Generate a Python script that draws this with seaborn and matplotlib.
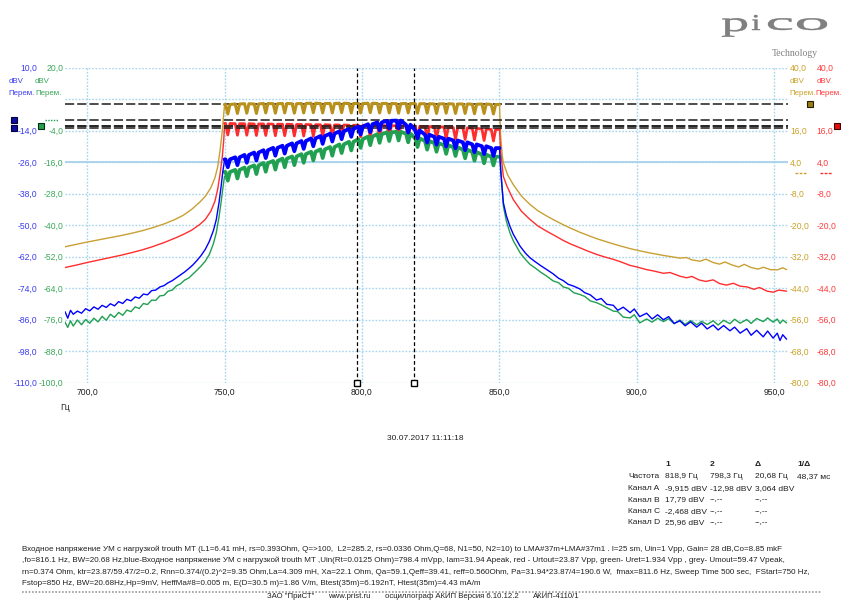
import numpy as np
import pandas as pd
import matplotlib
matplotlib.use("Agg")
import matplotlib.pyplot as plt
import matplotlib.transforms as mtransforms
from matplotlib.ticker import FixedLocator, FuncFormatter
from matplotlib.textpath import TextPath
from matplotlib.patches import PathPatch
from matplotlib.font_manager import FontProperties
import seaborn as sns

sns.set_style("white")
plt.rcParams["font.family"] = ["Liberation Sans", "DejaVu Sans"]
plt.rcParams["axes.unicode_minus"] = False

# ------------------------------------------------------------------ data
X_TICKS = [700, 750, 800, 850, 900, 950]
A_TICKS = [-110, -98, -86, -74, -62, -50, -38, -26, -14, -2, 10]      # blue, dBV
C_TICKS = [-100, -88, -76, -64, -52, -40, -28, -16, -4, 8, 20]        # green, dBV
BD_TICKS = [-80, -68, -56, -44, -32, -20, -8, 4, 16, 28, 40]          # yellow / red, dBV
A_HIDDEN, C_HIDDEN, BD_HIDDEN = -2, 8, 28

CURSOR_FREQ = [818.9, 798.3]
CURSOR_A = [-9.915, -12.98]
CURSOR_B = 17.79
CURSOR_C = -2.468
CURSOR_D = 25.96

# low-frequency skirt (Hz)
SMOOTH_LEFT_F = [692, 696, 700, 704, 708, 712, 716, 720, 724, 728, 732, 735, 738, 741,
                 743, 745, 746.5, 747.5, 748.4, 749.2, 749.7, 750]
YELLOW_LEFT = [-28.3, -27.4, -26.5, -25.7, -24.9, -24.1, -23.2, -22.2, -21.0, -19.6, -17.9,
               -16.3, -14.1, -11.3, -9.1, -5.9, -2.1, 2.0, 8.5, 16.0, 22.0, 25.5]
RED_LEFT = [-36.2, -35.3, -34.3, -33.4, -32.5, -31.6, -30.6, -29.5, -28.2, -26.7, -25.0,
            -23.6, -22.0, -19.8, -17.9, -14.8, -11.0, -6.5, -0.5, 6.0, 12.0, 17.5]

NOISY_LEFT_F = [692.0, 693.0, 694.0, 695.0, 696.5, 698.0, 699.5, 701.0, 702.5, 704.0, 705.5,
                707.0, 708.5, 710.0, 711.5, 713.0, 714.5, 716.0, 717.5, 719.0, 720.5, 722.0,
                723.5, 725.0, 726.5, 728.0, 729.5, 731.0, 732.5, 734.0, 735.5, 737.0, 738.5,
                740.0, 741.5, 743.0, 744.5, 746.0, 747.0, 748.0, 748.8, 749.4, 750.0]
BLUE_LEFT = [-83.0, -85.5, -82.5, -84.0, -82.8, -83.6, -81.9, -82.7, -81.2, -82.1, -80.6,
             -81.4, -80.0, -80.8, -79.2, -79.9, -78.3, -78.9, -77.4, -77.9, -76.3, -76.6,
             -75.0, -74.8, -73.6, -73.1, -72.0, -71.2, -70.1, -69.0, -67.9, -66.6, -65.2,
             -63.5, -61.6, -59.3, -56.2, -52.0, -48.0, -41.5, -35.0, -29.5, -25.5]
GREEN_LEFT = [-77.0, -79.0, -76.5, -78.5, -76.2, -78.0, -76.0, -77.4, -75.5, -76.9, -74.8,
              -76.3, -74.0, -75.2, -73.3, -74.4, -72.4, -73.0, -71.2, -71.8, -69.9, -70.3,
              -68.6, -68.7, -67.0, -66.8, -65.2, -64.8, -63.2, -62.4, -61.0, -60.2, -58.7,
              -57.2, -55.6, -53.8, -51.2, -47.0, -43.0, -37.0, -31.0, -26.0, -21.5]

# pass band 750..850 Hz: ripple notch positions and top level of each trace
RIPPLE_FREQ = [751.2, 754.7, 758.1, 761.6, 765.0, 768.5, 771.9, 775.4, 778.8, 782.3, 785.7,
               789.2, 792.6, 796.1, 799.5, 803.0, 806.4, 809.9, 813.3, 816.8, 820.2, 823.7,
               827.1, 830.6, 834.0, 837.5, 840.9, 844.4, 847.8]
YELLOW_TOP = [25.9, 26.1, 26.2, 26.1, 26.3, 26.2, 26.3, 26.2, 26.3, 26.4, 26.3, 26.3, 26.4,
              26.3, 26.3, 26.4, 26.3, 26.3, 26.2, 26.3, 26.2, 26.2, 26.1, 26.2, 26.1, 26.1,
              26.0, 26.1, 25.9]
RED_TOP = [18.7, 18.6, 18.6, 18.5, 18.5, 18.4, 18.4, 18.3, 18.3, 18.2, 18.2, 18.1, 18.1, 18.0,
           18.0, 17.9, 17.9, 17.8, 17.8, 17.7, 17.6, 17.5, 17.4, 17.3, 17.1, 17.0, 16.8, 16.6,
           16.4]
BLUE_TOP = [-25.0, -24.2, -23.3, -22.4, -21.5, -20.6, -19.8, -18.9, -18.0, -17.0, -16.1,
            -15.2, -14.3, -13.4, -12.5, -11.6, -10.9, -10.3, -10.2, -11.8, -14.0, -15.6,
            -16.4, -17.1, -17.8, -18.5, -19.3, -20.0, -20.7]
GREEN_TOP = [-19.8, -19.0, -18.1, -17.3, -16.4, -15.6, -14.7, -13.9, -13.0, -12.1, -11.2,
             -10.3, -9.3, -8.3, -7.3, -6.3, -5.4, -4.7, -4.5, -5.2, -7.0, -8.0, -8.8, -9.6,
             -10.4, -11.3, -12.2, -13.2, -14.0]
RIPPLE_DEPTH = {"yellow": 3.6, "red": 4.4, "blue": 3.0, "green": 3.3}

# high-frequency skirt
YELLOW_RIGHT_F = [850.4, 851.0, 851.4, 853.0, 855.0, 858.0, 861.1, 864.0, 867.2, 870.0, 873.2,
                  876.0, 879.3, 882.0, 885.3, 888.0, 891.4, 894.0, 897.5, 900.0, 903.5, 906.0,
                  909.6, 912.0, 915.6, 918.0, 920.0, 923.0, 925.0, 927.7, 930.0, 932.0, 934.5,
                  937.0, 939.0, 941.5, 944.0, 946.0, 948.5, 951.0, 953.0, 954.4]
YELLOW_RIGHT = [14.0, 6.5, 3.7, -1.0, -4.6, -9.0, -12.2, -14.6, -16.6, -18.2, -19.9, -21.3,
                -22.8, -23.9, -25.2, -26.1, -27.2, -28.0, -29.0, -29.6, -30.4, -30.9, -31.6,
                -32.0, -32.6, -32.4, -33.3, -33.8, -33.0, -34.3, -34.9, -34.1, -35.2, -36.0,
                -35.0, -36.2, -36.8, -36.1, -37.0, -37.1, -36.3, -37.0]
RED_RIGHT_F = [850.4, 851.4, 852.7, 855.0, 858.0, 861.1, 864.0, 867.2, 870.0, 873.2, 876.0,
               879.3, 882.0, 885.3, 888.0, 891.4, 894.0, 897.5, 900.0, 903.5, 906.0, 909.6,
               912.0, 915.6, 918.0, 920.0, 922.5, 925.0, 927.7, 930.0, 932.5, 935.0, 937.5,
               940.1, 942.5, 944.5, 947.3, 949.5, 951.5, 954.4]
RED_RIGHT = [8.0, -1.5, -5.2, -10.3, -14.8, -17.9, -20.4, -22.4, -24.0, -25.9, -27.3, -28.7,
             -29.9, -31.2, -32.1, -33.1, -34.0, -35.4, -36.0, -37.0, -37.5, -38.4, -38.1,
             -39.5, -40.1, -39.6, -40.9, -41.5, -40.9, -42.3, -42.9, -42.2, -43.3, -43.6,
             -44.5, -43.8, -45.2, -45.6, -44.8, -45.2]
NOISY_RIGHT_F = [850.4, 851.4, 852.5, 853.8, 855.0, 857.5, 859.5, 861.1, 863.0, 865.0, 867.2,
                 869.5, 871.5, 873.2, 875.0, 877.0, 879.3, 881.0, 883.0, 885.3, 887.0, 889.0,
                 891.4, 893.0, 895.0, 897.5, 899.0, 901.0, 903.5, 905.5, 907.5, 909.6, 911.5,
                 913.5, 915.6, 917.5, 919.5, 921.7, 923.5, 925.5, 927.7, 929.5, 931.5, 933.8,
                 935.5, 937.5, 939.9, 941.5, 943.5, 945.9, 947.5, 949.5, 951.0, 952.0, 953.0,
                 954.4]
BLUE_RIGHT = [-29.0, -41.5, -46.5, -50.5, -53.5, -58.1, -60.8, -62.5, -64.0, -65.5, -67.0,
              -68.6, -70.3, -71.2, -72.6, -73.3, -74.4, -75.8, -76.6, -78.6, -78.0, -80.2,
              -80.6, -82.5, -81.3, -83.4, -82.0, -84.9, -83.6, -85.8, -84.2, -86.1, -84.9,
              -87.5, -86.5, -88.4, -86.9, -88.9, -87.4, -89.6, -88.1, -90.0, -88.3, -90.3,
              -88.9, -91.2, -89.5, -92.0, -90.1, -92.6, -90.4, -93.1, -91.2, -94.0, -91.8,
              -93.5]
GREEN_RIGHT = [-17.6, -32.8, -38.5, -43.0, -46.0, -50.6, -53.2, -55.0, -56.4, -58.0, -59.5,
               -61.3, -62.0, -63.6, -64.1, -65.8, -66.5, -67.2, -68.9, -69.6, -70.4, -71.5,
               -72.8, -73.0, -75.1, -75.4, -74.2, -77.3, -75.8, -77.0, -75.5, -76.8, -75.7,
               -77.6, -76.2, -77.9, -76.4, -78.0, -76.7, -77.9, -76.5, -78.1, -76.3, -77.6,
               -75.9, -77.4, -76.0, -77.5, -75.6, -76.8, -75.4, -77.0, -75.8, -77.5, -76.2,
               -77.3]

TABLE_HEAD = ["1", "2", "Δ", "1/Δ"]
TABLE_ROWS = [
    ["Частота", "818,9 Гц", "798,3 Гц", "20,68 Гц", "48,37 мс"],
    ["Канал A", "-9,915 dBV", "-12,98 dBV", "3,064 dBV", ""],
    ["Канал B", "17,79 dBV", "--,--", "--,--", ""],
    ["Канал C", "-2,468 dBV", "--,--", "--,--", ""],
    ["Канал D", "25,96 dBV", "--,--", "--,--", ""],
]
NOTE_LINES = [
    "Входное напряжение УМ с нагрузкой trouth MT (L1=6.41 mH, rs=0.393Ohm, Q=>100,  L2=285.2, rs=0.0336 Ohm,Q=68, N1=50, N2=10) to LMA#37m+LMA#37m1 . l=25 sm, Uin=1 Vpp, Gain= 28 dB,Co=8.85 mkF",
    ",fo=816.1 Hz, BW=20.68 Hz,blue-Входное напряжение УМ с нагрузкой trouth MT ,Uin(Rt=0.0125 Ohm)=798.4 mVpp, Iam=31.94 Apeak, red - Urtout=23.87 Vpp, green- Uret=1.934 Vpp , grey- Umout=59.47 Vpeak,",
    "rn=0.374 Ohm, ktr=23.87/59.47/2=0.2, Rnn=0.374/(0.2)^2=9.35 Ohm,La=4.309 mH, Xa=22.1 Ohm, Qa=59.1,Qeff=39.41, reff=0.560Ohm, Pa=31.94*23.87/4=190.6 W,  fmax=811.6 Hz, Sweep Time 500 sec,  FStart=750 Hz,",
    "Fstop=850 Hz, BW=20.68Hz,Hp=9mV, HeffMa#8=0.005 m, E(D=30.5 m)=1.86 V/m, Btest(35m)=6.192nT, Htest(35m)=4.43 mA/m",
]
DATE_TEXT = "30.07.2017 11:11:18"
FOOTER = ['ЗАО "ПриСТ"', "www.prist.ru", "осциллограф АКИП Версия 6.10.12.2", "АКИП-4110/1"]

# ------------------------------------------------------------------ style
W, H = 841, 600
PL, PR, PT, PB = 65, 788, 67.5, 382.5
XMIN = 692.0
XMAX = 692.0 + (PR - PL) / 2.75

BLUE, GREEN, RED, GOLD = "#0000ff", "#20a050", "#ff2e2e", "#c9a033"
GOLD_BAND = "#b8901c"
T_BLUE, T_GREEN, T_GOLD, T_RED = "#3c3cf0", "#3aa85a", "#c9a227", "#ff3b3b"
GRID = "#a6d5ec"
TICK_FS = 6.2


def fmt(hidden):
    return FuncFormatter(lambda v, p: "" if abs(v - hidden) < 1e-6 else f"{v:.1f}".replace(".", ","))


def px2frac(px):
    return (px - PL) / (PR - PL)


def passband(tops, depth):
    xs, ys = [750.0], [tops[0]]
    for f, t in zip(RIPPLE_FREQ, tops):
        xs += [f - 0.8, f, f + 0.8]
        ys += [t, t - depth, t]
    xs.append(850.0)
    ys.append(tops[-1])
    return xs, ys


fig = plt.figure(figsize=(W / 100, H / 100), dpi=100)
fig.patch.set_facecolor("white")
rect = [PL / W, 1 - PB / H, (PR - PL) / W, (PB - PT) / H]
ax_D = fig.add_axes(rect)
ax_B = ax_D.twinx()
ax_C = ax_D.twinx()
ax_A = ax_D.twinx()


def line(ax, x, y, color, lw):
    sns.lineplot(x=x, y=y, ax=ax, color=color, linewidth=lw, estimator=None,
                 sort=False, legend=False)


# yellow (D)
line(ax_D, SMOOTH_LEFT_F, YELLOW_LEFT, GOLD, 1.0)
xs, ys = passband(YELLOW_TOP, RIPPLE_DEPTH["yellow"])
line(ax_D, xs, ys, GOLD_BAND, 2.2)
line(ax_D, [850.0] + YELLOW_RIGHT_F, [YELLOW_TOP[-1]] + YELLOW_RIGHT, GOLD, 1.0)
# red (B)
line(ax_B, SMOOTH_LEFT_F, RED_LEFT, RED, 1.0)
xs, ys = passband(RED_TOP, RIPPLE_DEPTH["red"])
line(ax_B, xs, ys, RED, 2.0)
line(ax_B, [850.0] + RED_RIGHT_F, [RED_TOP[-1]] + RED_RIGHT, RED, 1.0)
# green (C)
line(ax_C, NOISY_LEFT_F, GREEN_LEFT, GREEN, 1.0)
xs, ys = passband(GREEN_TOP, RIPPLE_DEPTH["green"])
line(ax_C, xs, ys, GREEN, 2.7)
line(ax_C, [850.0] + NOISY_RIGHT_F, [GREEN_TOP[-1]] + GREEN_RIGHT, GREEN, 1.0)
# blue (A)
line(ax_A, NOISY_LEFT_F, BLUE_LEFT, BLUE, 1.0)
xs, ys = passband(BLUE_TOP, RIPPLE_DEPTH["blue"])
line(ax_A, xs, ys, BLUE, 2.7)
line(ax_A, [850.0] + NOISY_RIGHT_F, [BLUE_TOP[-1]] + BLUE_RIGHT, BLUE, 1.0)

# cursor level lines
dash = dict(color="#1c1c1c", lw=1.1, ls=(0, (6, 2)), zorder=1)
ax_D.axhline(CURSOR_D, **dash)
ax_B.axhline(CURSOR_B, **dash)
ax_C.axhline(CURSOR_C, **dash)
for v in CURSOR_A:
    ax_A.axhline(v, **dash)
# cursor frequency lines
for f in CURSOR_FREQ:
    ax_A.axvline(f, color="black", lw=0.9, ls=(0, (3, 2)), zorder=1)
ax_A.plot(CURSOR_FREQ, [A_TICKS[0]] * 2, ls="none", marker="s", ms=3.8, mfc="white",
          mec="black", mew=1.0, clip_on=False, zorder=5)

# axis limits & ticks
for ax, ticks, lo_hi in [(ax_A, A_TICKS, (-110, 10)), (ax_C, C_TICKS, (-100, 20)),
                         (ax_B, BD_TICKS, (-80, 40)), (ax_D, BD_TICKS, (-80, 40))]:
    ax.set_ylim(*lo_hi)
    ax.yaxis.set_major_locator(FixedLocator(ticks))
    ax.set_xlabel("")
    ax.set_ylabel("")
    for s in ax.spines.values():
        s.set_visible(False)
    ax.patch.set_visible(False)
ax_D.set_xlim(XMIN, XMAX)
ax_D.yaxis.tick_right()
ax_B.yaxis.tick_right()
ax_C.yaxis.tick_left()
ax_A.yaxis.tick_left()
ax_A.yaxis.set_major_formatter(fmt(A_HIDDEN))
ax_C.yaxis.set_major_formatter(fmt(C_HIDDEN))
ax_B.yaxis.set_major_formatter(fmt(BD_HIDDEN))
ax_D.yaxis.set_major_formatter(fmt(BD_HIDDEN))
ax_A.tick_params(axis="y", length=0, pad=19.8, labelsize=TICK_FS, labelcolor=T_BLUE)
ax_C.tick_params(axis="y", length=0, pad=1.2, labelsize=TICK_FS, labelcolor=T_GREEN)
ax_D.tick_params(axis="y", length=0, pad=1.4, labelsize=TICK_FS, labelcolor=T_GOLD)
ax_B.tick_params(axis="y", length=0, pad=20.7, labelsize=TICK_FS, labelcolor=T_RED)
ax_D.xaxis.set_major_locator(FixedLocator(X_TICKS))
ax_D.xaxis.set_major_formatter(FuncFormatter(lambda v, p: f"{v:.1f}".replace(".", ",")))
ax_D.tick_params(axis="x", length=0, pad=3.5, labelsize=TICK_FS, labelcolor="#202020")

ax_D.grid(True, color=GRID, lw=1.0, ls=(0, (1.2, 1.2)), zorder=0)
ax_D.axhline(4, color="#98c8e8", lw=1.1, zorder=0.5)
ax_D.set_axisbelow(True)


# level markers outside the plot
def side_marker(ax, xpx, val, fc, ec):
    tr = mtransforms.blended_transform_factory(ax.transAxes, ax.transData)
    ax.plot([px2frac(xpx)], [val], marker="s", ms=3.8, mfc=fc, mec=ec, mew=0.8,
            transform=tr, clip_on=False, ls="none")


def zero_dash(ax, x0, x1, color, ls):
    tr = mtransforms.blended_transform_factory(ax.transAxes, ax.transData)
    ax.plot([px2frac(x0), px2frac(x1)], [0, 0], color=color, lw=1.0, ls=ls,
            transform=tr, clip_on=False)


side_marker(ax_A, 14, CURSOR_A[0], "#1010a0", "#000040")
side_marker(ax_A, 14, CURSOR_A[1], "#1010a0", "#000040")
side_marker(ax_C, 40.5, CURSOR_C, "#22a050", "#003010")
side_marker(ax_D, 810.5, CURSOR_D, "#9a7c10", "#202000")
side_marker(ax_B, 837, CURSOR_B, "#e01010", "#400000")
zero_dash(ax_C, 45, 58, GREEN, (0, (1, 1)))
zero_dash(ax_D, 795, 806, GOLD, (0, (2, 1)))
zero_dash(ax_B, 820, 832, RED, (0, (2, 1)))

# ------------------------------------------------------------------ overlay texts
ov = fig.add_axes([0, 0, 1, 1])
ov.set_xlim(0, W)
ov.set_ylim(H, 0)
ov.axis("off")
ov.patch.set_visible(False)

hfs = 5.7
ov.text(9, 81.5, "dBV", color=T_BLUE, fontsize=hfs, va="center")
ov.text(35, 81.5, "dBV", color=T_GREEN, fontsize=hfs, va="center")
ov.text(8, 93.3, "Перем.", color=T_BLUE, fontsize=hfs, va="center")
ov.text(35.5, 93.3, "Перем.", color=T_GREEN, fontsize=hfs, va="center")
ov.text(790, 81.5, "dBV", color=T_GOLD, fontsize=hfs, va="center")
ov.text(817, 81.5, "dBV", color=T_RED, fontsize=hfs, va="center")
ov.text(789, 93.3, "Перем.", color=T_GOLD, fontsize=hfs, va="center")
ov.text(815.5, 93.3, "Перем.", color=T_RED, fontsize=hfs, va="center")

ov.text(60, 407, "Гц", fontsize=TICK_FS, color="#202020", va="center")
ov.text(425, 438, DATE_TEXT, fontsize=6.0, color="#202020", ha="center", va="center")

# table
cols = [628, 665, 710, 755, 797]
for x, h in zip(cols[1:], TABLE_HEAD):
    ov.text(x, 465, h, fontsize=6.0, fontweight="bold", va="center", color="#202020")
for r, row in enumerate(TABLE_ROWS):
    y = [477, 488.5, 500, 511.5, 523][r]
    for x, cell in zip(cols, row):
        ov.text(x, y, cell, fontsize=6.0, va="center", color="#202020")

# notes (font size fitted so the longest line spans the reference width)
notes = []
for i, s in enumerate(NOTE_LINES):
    notes.append(ov.text(22, [549, 560.7, 572.3, 583.5][i], s, fontsize=5.5, va="center",
                         color="#202020"))
fig.canvas.draw()
r = fig.canvas.get_renderer()
wmax = max(t.get_window_extent(r).width for t in notes)
nfs = 5.5 * 792 / wmax
for t in notes:
    t.set_fontsize(nfs)
ov.plot([22, 822], [591.5, 591.5], color="#9a9a9a", lw=1.2, ls=(0, (1, 1)))

# footer, placed one after another
x = 267
for s in FOOTER:
    t = ov.text(x, 593.5, s, fontsize=5.6, va="top", color="#202020")
    fig.canvas.draw()
    x += t.get_window_extent(fig.canvas.get_renderer()).width + 14

# pico logo, letter by letter
logo_boxes = [("p", 722, 747, 18.3, 36.7), ("i", 752, 760, 15.0, 30.0),
              ("c", 768, 792, 18.3, 30.0), ("o", 797, 827, 18.3, 30.0)]
for ch, x0, x1, y0, y1 in logo_boxes:
    tp = TextPath((0, 0), ch, size=10, prop=FontProperties(family="Liberation Serif"))
    bb = tp.get_extents()
    sx = (x1 - x0) / bb.width
    sy = (y1 - y0) / bb.height
    trf = mtransforms.Affine2D().translate(-bb.x0, -bb.y1).scale(sx, -sy).translate(x0, y0)
    ov.add_patch(PathPatch(trf.transform_path(tp), fc="#808080", ec="#707070", lw=0.3))
ov.text(795, 53, "Technology", fontsize=7, family="Liberation Serif", color="#808080",
        ha="center", va="center")

fig.savefig("out.png", dpi=100, facecolor="white")
